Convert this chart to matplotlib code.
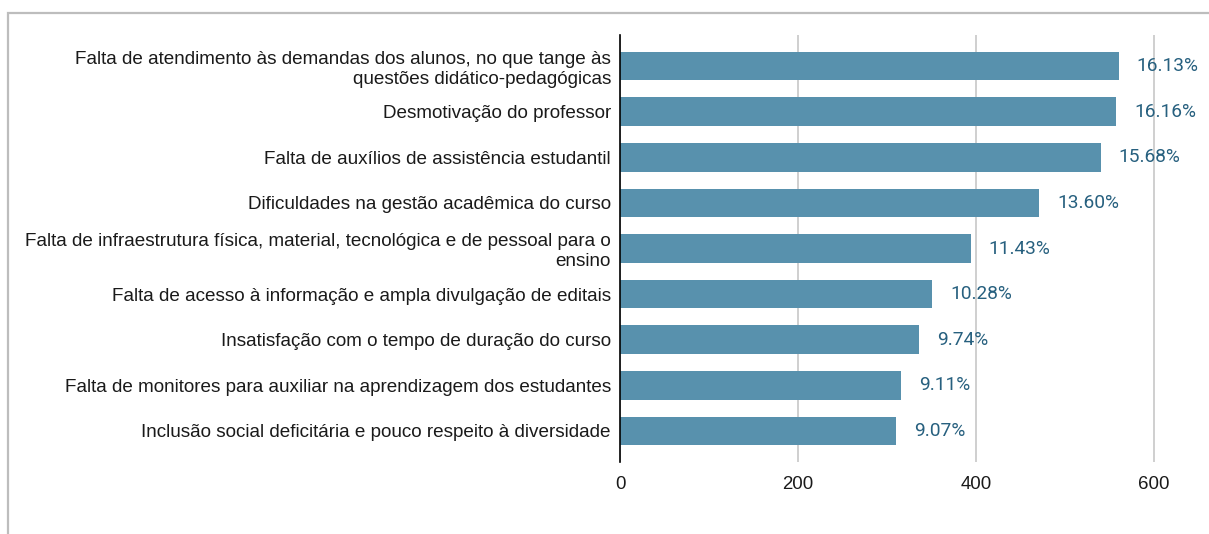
import matplotlib.pyplot as plt
from matplotlib.patches import Rectangle

categories = [
    'Falta de atendimento às demandas dos alunos, no que tange às\nquestões didático-pedagógicas',
    'Desmotivação do professor',
    'Falta de auxílios de assistência estudantil',
    'Dificuldades na gestão acadêmica do curso',
    'Falta de infraestrutura física, material, tecnológica e de pessoal para o\nensino',
    'Falta de acesso à informação e ampla divulgação de editais',
    'Insatisfação com o tempo de duração do curso',
    'Falta de monitores para auxiliar na aprendizagem dos estudantes',
    'Inclusão social deficitária e pouco respeito à diversidade',
]
counts = [560, 557, 540, 471, 394, 351, 336, 316, 310]
pct_labels = ['16.13%', '16.16%', '15.68%', '13.60%', '11.43%', '10.28%', '9.74%', '9.11%', '9.07%']
xticks = [0, 200, 400, 600]

bar_color = '#5891ad'
label_color = '#27607f'

fig = plt.figure(figsize=(12.09, 5.34), dpi=100)
ax = fig.add_axes([620 / 1209, 1 - 462 / 534, (1180 - 620) / 1209, (462 - 35) / 534])

y = list(range(len(categories)))
ax.barh(y, counts, height=0.63, color=bar_color, zorder=3)

for yi, c, lab in zip(y, counts, pct_labels):
    ax.annotate(lab, (c, yi), xytext=(13, 0), textcoords='offset points',
                ha='left', va='center', fontsize=13.8, color=label_color,
                family=['Roboto', 'DejaVu Sans'])

ax.set_ylim(8.68, -0.68)
ax.set_xlim(0, 629)
ax.set_yticks(y)
ax.set_yticklabels(categories, fontsize=13.6, family='Liberation Sans',
                   color='#1a1a1a', linespacing=1.22)
ax.set_xticks(xticks)
ax.set_xticklabels([str(t) for t in xticks], fontsize=13.4, family='Liberation Sans',
                   color='#1a1a1a')
ax.tick_params(axis='y', length=0, pad=6.5)
ax.tick_params(axis='x', length=0, pad=10)

ax.grid(axis='x', color='#cccccc', linewidth=1.3, zorder=0)
for s in ['top', 'right', 'bottom']:
    ax.spines[s].set_visible(False)
ax.spines['left'].set_color('black')
ax.spines['left'].set_linewidth(1.2)
ax.spines['left'].set_zorder(4)

# moldura cinza da imagem original
fig.patches.append(Rectangle((8 / 1209, -0.1), 1.1, 1 - 13 / 534 + 0.1,
                             transform=fig.transFigure, fill=False,
                             edgecolor='#bdbdbd', linewidth=1.6))

fig.savefig('out.png', dpi=100)
